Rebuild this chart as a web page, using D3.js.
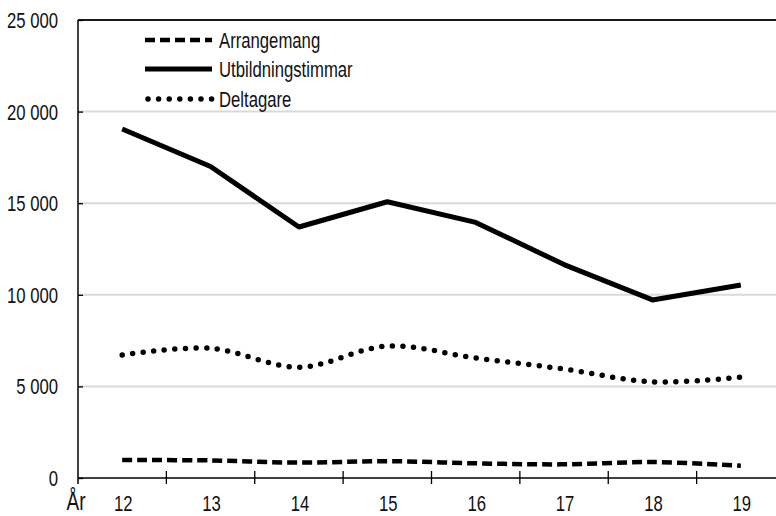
<!DOCTYPE html>
<html><head><meta charset="utf-8">
<script src="https://cdn.jsdelivr.net/npm/d3@7/dist/d3.min.js"></script>
<style>
body{margin:0;background:#fff;}
svg{display:block;font-family:"Liberation Sans","Arial",sans-serif;}
</style></head>
<body><svg id="c" width="776" height="516"></svg>
<script>
const years = ["12","13","14","15","16","17","18","19"];
const arrangemang = [980, 960, 840, 920, 800, 745, 870, 670];
const utbildningstimmar = [19050, 17000, 13700, 15080, 13950, 11650, 9720, 10530];
const deltagare = [6720, 7080, 6050, 7200, 6550, 5950, 5250, 5500];
const yTicks = [0, 5000, 10000, 15000, 20000, 25000];
const seriesNames = ["Arrangemang", "Utbildningstimmar", "Deltagare"];

const svg = d3.select("#c");
const mLeft = 78, mTop = 20, mBottom = 478, mRight = 785;
const x = d3.scaleBand().domain(years).range([mLeft, mRight]);
const y = d3.scaleLinear().domain([0, 25000]).range([mBottom, mTop]);
const fmt = v => d3.format(",")(v).replace(/,/g, " ");
const SX = 0.76;

function label(parent, tx, ty, str, size, anchor, dy) {
  return parent.append("text")
    .attr("transform", `translate(${tx},${ty}) scale(${SX},1)`)
    .attr("text-anchor", anchor).attr("dy", dy || 0)
    .attr("font-size", size).attr("fill", "#111").text(str);
}

// gridlines
svg.append("g").selectAll("line").data(yTicks.filter(d => d > 0 && d < 25000)).join("line")
  .attr("x1", mLeft).attr("x2", 776).attr("y1", d => y(d)).attr("y2", d => y(d))
  .attr("stroke", "#d9d9d9").attr("stroke-width", 2);
// top line
svg.append("line").attr("x1", mLeft).attr("x2", 776).attr("y1", y(25000)).attr("y2", y(25000))
  .attr("stroke", "#1a1a1a").attr("stroke-width", 2);

// y axis
const yAxis = d3.axisRight(y).tickValues(yTicks).tickSize(5).tickFormat("");
const gy = svg.append("g").attr("transform", `translate(${mLeft},0)`).call(yAxis);
gy.select(".domain").remove();
gy.selectAll(".tick line").attr("stroke", "#000").attr("stroke-width", 1.3);
svg.append("line").attr("x1", mLeft).attr("x2", mLeft).attr("y1", mTop).attr("y2", mBottom + 6)
  .attr("stroke", "#000").attr("stroke-width", 1.5);
const gyl = svg.append("g");
yTicks.forEach(d => label(gyl, 58, y(d), fmt(d), 22, "end", "0.36em"));

// x axis
svg.append("line").attr("x1", mLeft).attr("x2", 776).attr("y1", mBottom).attr("y2", mBottom)
  .attr("stroke", "#000").attr("stroke-width", 1.3);
svg.append("g").selectAll("line").data(years.slice(1)).join("line")
  .attr("x1", d => x(d)).attr("x2", d => x(d)).attr("y1", mBottom - 7).attr("y2", mBottom + 6)
  .attr("stroke", "#000").attr("stroke-width", 1.3);
const gxl = svg.append("g");
years.forEach(d => label(gxl, x(d) + x.bandwidth() / 2 + 1, 511, d, 22, "middle"));
label(svg, 76, 510, "År", 25, "middle");

const cx = d => x(d) + x.bandwidth() / 2;
const styles = [
  {data: arrangemang, dash: "10 5", width: 4.5, cap: "butt", curve: d3.curveCatmullRom.alpha(0.5)},
  {data: utbildningstimmar, dash: null, width: 5, cap: "butt", curve: d3.curveLinear},
  {data: deltagare, dash: "0 10.6", width: 5.5, cap: "round", curve: d3.curveCatmullRom.alpha(0.5)}
];
styles.forEach(s => {
  const line = d3.line().x((d, i) => cx(years[i])).y(d => y(d)).curve(s.curve);
  svg.append("path").datum(s.data).attr("d", line).attr("fill", "none")
    .attr("stroke", "#000").attr("stroke-width", s.width).attr("stroke-linecap", s.cap)
    .attr("stroke-linejoin", "round")
    .attr("stroke-dasharray", s.dash);
});

// legend
const legY = [40, 69, 99];
seriesNames.forEach((n, i) => {
  const s = styles[i];
  svg.append("line").attr("x1", i === 2 ? 148 : 145).attr("x2", 212).attr("y1", legY[i]).attr("y2", legY[i])
    .attr("stroke", "#000").attr("stroke-width", s.width).attr("stroke-linecap", s.cap)
    .attr("stroke-dasharray", s.dash);
  label(svg, 219, legY[i], n, 22, "start", "0.36em");
});
</script></body></html>
